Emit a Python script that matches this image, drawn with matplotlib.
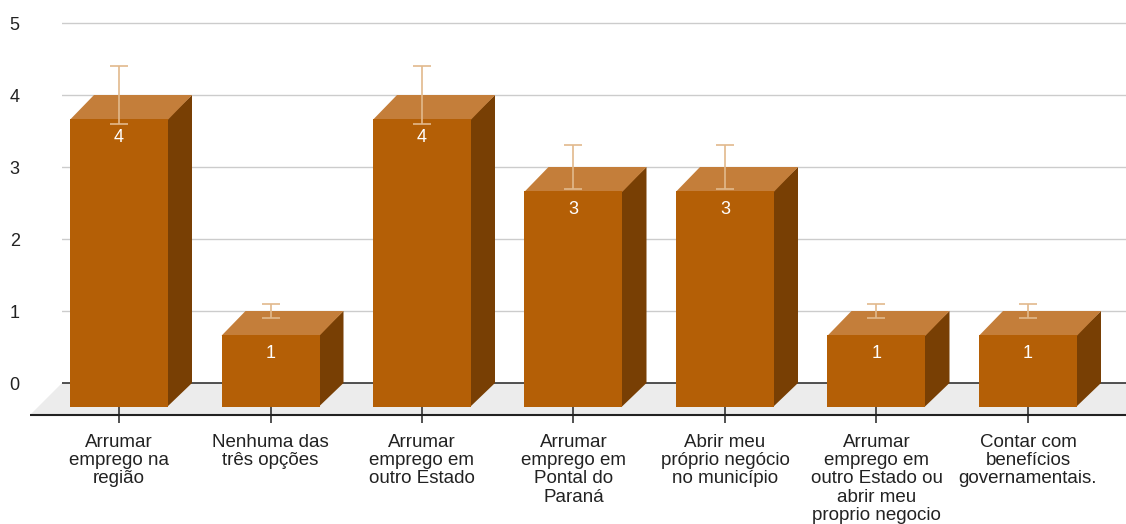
import matplotlib.pyplot as plt
from matplotlib.patches import Polygon, Rectangle

# chart data
categories = [
    "Arrumar\nemprego na\nregião",
    "Nenhuma das\ntrês opções",
    "Arrumar\nemprego em\noutro Estado",
    "Arrumar\nemprego em\nPontal do\nParaná",
    "Abrir meu\npróprio negócio\nno município",
    "Arrumar\nemprego em\noutro Estado ou\nabrir meu\nproprio negocio",
    "Contar com\nbenefícios\ngovernamentais.",
]
values = [4, 1, 4, 3, 3, 1, 1]
errors = [0.4, 0.1, 0.4, 0.3, 0.3, 0.1, 0.1]
y_ticks = [0, 1, 2, 3, 4, 5]

# colours
FRONT = "#b45f06"
TOP = "#c47e3a"
SIDE = "#783f04"
ERR = "#e2b98c"
FLOOR = "#ececec"

plt.rcParams['font.family'] = ['Liberation Sans', 'DejaVu Sans']

# pixel geometry of the reference (x step 151.5 px per category, 72 px per unit)
PX_X = 151.5
PX_Y = 72.0
bar_w = 98 / PX_X
dx = 24 / PX_X          # bar depth
dy = 24 / PX_Y
floor_dx = 32 / PX_X
y_bottom = -32 / PX_Y   # axis line below the floor
seam = 1 / PX_X

fig = plt.figure(figsize=(11.26, 5.24), dpi=100)
ax = fig.add_axes([62 / 1126, (524 - 415) / 524, 1 - 62 / 1126, 415 / 524])
ax.set_xlim((62 - 119) / PX_X, (1126 - 119) / PX_X)
ax.set_ylim(y_bottom, 383 / PX_Y)
for s in ax.spines.values():
    s.set_visible(False)

# grid
for t in y_ticks[1:]:
    ax.axhline(t, color="#cccccc", lw=1, zorder=0)

# floor
x0, x1 = ax.get_xlim()
floor = Polygon([(x0, 0), (x1 + floor_dx, 0), (x1, y_bottom), (x0 - floor_dx, y_bottom)],
                closed=True, facecolor=FLOOR, edgecolor="none", zorder=1, clip_on=False)
ax.add_patch(floor)
ax.plot([x0, x1], [0, 0], color="#333333", lw=1.2, zorder=2)
ax.plot([x0 - floor_dx, x1], [y_bottom, y_bottom], color="#222222", lw=1.5,
        zorder=2, clip_on=False, solid_capstyle="butt")

# bars (side and top first, front face on top of the seams)
for i, v in enumerate(values):
    l, r = i - bar_w / 2, i + bar_w / 2
    ax.add_patch(Polygon([(r - seam, -dy), (r + dx, 0), (r + dx, v), (r - seam, v - dy)],
                         closed=True, facecolor=SIDE, edgecolor="none", zorder=3))
    ax.add_patch(Polygon([(l, v - dy - 0.01), (r, v - dy - 0.01), (r + dx, v), (l + dx, v)],
                         closed=True, facecolor=TOP, edgecolor="none", zorder=3))
    ax.add_patch(Rectangle((l, -dy), bar_w, v, facecolor=FRONT, edgecolor="none",
                           zorder=3.5))
    ax.text(i, v - dy - 18.5 / PX_Y, str(v), color="white", fontsize=13,
            ha="center", va="center", zorder=5)

ax.errorbar(range(len(values)), values, yerr=errors, fmt="none", ecolor=ERR,
            elinewidth=1.2, capsize=6.5, capthick=1.2, zorder=4)

# axes ticks
ax.set_xticks(range(len(categories)))
ax.set_xticklabels(categories, fontsize=13.5, color="#222222")
for lab in ax.get_xticklabels():
    lab.set_linespacing(1.1)
ax.tick_params(axis="x", direction="inout", length=12.2, width=1.1, color="#222222", pad=7.5)
ax.set_yticks(y_ticks)
ax.set_yticklabels([str(t) for t in y_ticks], fontsize=13, color="#222222")
ax.tick_params(axis="y", length=0, pad=30.5)

fig.savefig("out.png", dpi=100)
